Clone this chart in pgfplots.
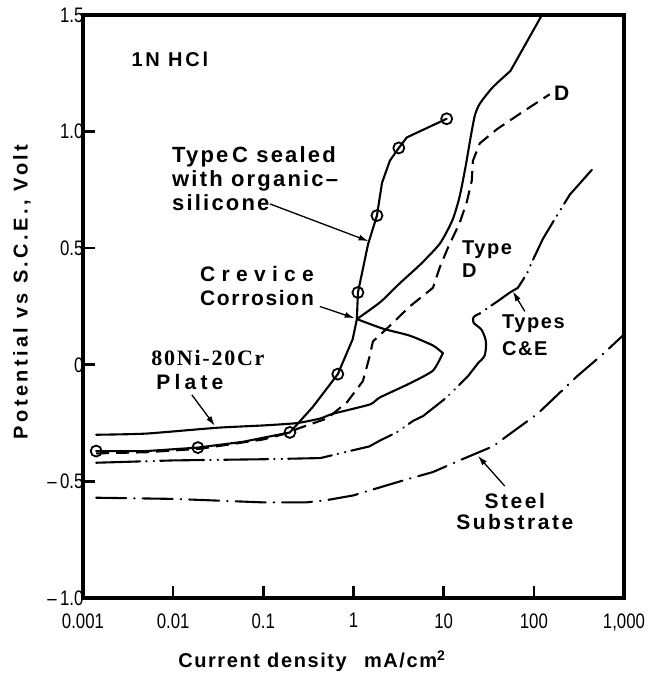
\documentclass[border=0pt]{standalone}
\usepackage{fontspec}
\setmainfont{Liberation Sans}
\newfontfamily\labfont[LetterSpace=8]{Liberation Sans}
\newfontfamily\tickfont[FakeStretch=0.8]{Liberation Sans}
\newfontfamily\serifbold[LetterSpace=8]{Liberation Serif}
\usepackage{pgfplots}
\pgfplotsset{compat=1.18}
\usetikzlibrary{arrows.meta}
\tikzset{
  curve/.style={black, line width=2.1pt, line join=round, line cap=round},
  lab/.style={font=\labfont\bfseries\fontsize{21}{24}\selectfont, inner sep=0pt},
  arr/.style={-{Latex[length=10pt,width=6pt]}, line width=1.3pt},
  tk/.style={line width=2.6pt, black, line cap=butt},
}
\begin{document}
\begin{tikzpicture}
\begin{axis}[
  scale only axis, width=541pt, height=583pt,
  xmode=log, xmin=0.001, xmax=1000, ymin=-1, ymax=1.5,
  axis line style={line width=3.6pt, black},
  tick align=inside,
  xtick pos=left, ytick pos=left,
  major tick length=12pt,
  xtick style={line width=2.6pt, black},
  ytick style={line width=2.6pt, black},
  xminorticks=false,
  xtick={0.001,0.01,0.1,1,10,100,1000},
  xticklabels={0.001,0.01,0.1,1,10,100,{1,000}},
  ytick={-1,-0.5,0,0.5,1,1.5},
  yticklabels={{–\,1.0},{–\,0.5},0,0.5,1.0,1.5},
  ticklabel style={font=\tickfont\fontsize{21}{21}\selectfont},
  xticklabel style={yshift=-12pt},
  yticklabel style={xshift=4pt},
  clip=false,
  xlabel={Current density\hspace{10pt} mA/cm\textsuperscript{2}},
  ylabel={Potential vs S.C.E., Volt},
  every axis x label/.style={at={(axis description cs:0.423,-0.108)},anchor=center,font=\labfont\bfseries\fontsize{20}{20}\selectfont},
  every axis y label/.style={at={(axis description cs:-0.113,0.525)},anchor=center,rotate=90,font=\labfont\addfontfeatures{LetterSpace=17}\bfseries\fontsize{20}{20}\selectfont},
]
% frame and inward tick marks (left and bottom), drawn as short plot segments
\addplot[line width=3.4pt, black, line join=round, forget plot] coordinates {
(0.001,-1)(1000,-1)(1000,1.5)(0.001,1.5)(0.001,-1)};
\addplot[tk, forget plot] coordinates {(0.01,-1)(0.01,-0.9485)};
\addplot[tk, forget plot] coordinates {(0.1,-1)(0.1,-0.9485)};
\addplot[tk, forget plot] coordinates {(1,-1)(1,-0.9485)};
\addplot[tk, forget plot] coordinates {(10,-1)(10,-0.9485)};
\addplot[tk, forget plot] coordinates {(100,-1)(100,-0.9485)};
\addplot[tk, forget plot] coordinates {(0.001,-0.5)(0.001358,-0.5)};
\addplot[tk, forget plot] coordinates {(0.001,0)(0.001358,0)};
\addplot[tk, forget plot] coordinates {(0.001,0.5)(0.001358,0.5)};
\addplot[tk, forget plot] coordinates {(0.001,1)(0.001358,1)};
% 80Ni-20Cr plate (solid), with crevice loop and rise to top
\addplot[curve, smooth, tension=0.35] coordinates {
(0.0014,-0.30)(0.005,-0.295)(0.0306,-0.27)(0.1,-0.26)(0.236,-0.25)(0.43,-0.23)(0.59,-0.21)
(1.52,-0.17)(1.96,-0.14)(4.2,-0.08)(7.6,-0.025)(9.8,0.05)};
\addplot[curve, smooth, tension=0.35] coordinates {
(9.8,0.05)(7.6,0.083)(4.2,0.125)(2.12,0.155)(1.09,0.196)};
\addplot[curve, smooth, tension=0.4] coordinates {
(1.09,0.196)(2.0,0.27)(3.27,0.35)(5.5,0.43)(9.08,0.52)(12.5,0.62)(15,0.72)(17.5,0.85)(20,0.98)(22.2,1.07)(25.2,1.12)
(35,1.19)(55,1.26)};
\addplot[curve] coordinates {(55,1.26)(123,1.5)};
% Type C sealed with organic silicone (solid with circles)
\addplot[curve] coordinates {
(0.0014,-0.37)(0.005,-0.37)(0.0188,-0.355)(0.06,-0.33)(0.197,-0.29)(0.355,-0.18)(0.67,-0.04)
(0.98,0.11)(1.09,0.196)(1.12,0.31)(1.45,0.517)(1.82,0.64)(2.07,0.78)(2.53,0.875)(3.18,0.93)
(3.9,0.975)(10.8,1.055)};
% Type D (dashed)
\addplot[curve, dash pattern=on 13pt off 7pt, line cap=butt] coordinates {
(0.0014,-0.38)(0.005,-0.375)(0.02,-0.36)(0.1,-0.32)(0.2,-0.29)(0.236,-0.275)(0.51,-0.23)
(0.85,-0.16)(1.27,-0.07)(1.52,0.04)(1.64,0.10)(2.34,0.155)(4.2,0.25)(7.6,0.33)(9.1,0.42)
(11.1,0.50)(15.1,0.61)(18.1,0.70)(20.5,0.79)(21.1,0.875)(25.2,0.95)(38.9,1.01)(75.5,1.085)(150,1.16)};
% Types C & E (dash-dot-dot) lower part
\addplot[curve, dash pattern=on 44pt off 6pt on 0.5pt off 7pt on 0.5pt off 6pt] coordinates {
(0.0014,-0.42)(0.01,-0.41)(0.1,-0.405)(0.43,-0.40)(0.70,-0.38)(1.5,-0.35)(1.96,-0.325)
(3.0,-0.29)(4.6,-0.24)(5.9,-0.22)(10.8,-0.14)(18.5,-0.05)(24.4,0.01)};
% Types C & E squiggle (solid)
\addplot[curve, smooth, tension=0.5] coordinates {
(24.4,0.01)(28.5,0.04)(29.4,0.10)(26.3,0.15)(21.5,0.18)(21.5,0.205)(25.2,0.22)};
% Types C & E upper part
\addplot[curve, dash pattern=on 0.5pt off 7pt on 0.5pt off 6pt on 44pt off 6pt] coordinates {
(25.2,0.22)(32.5,0.25)(38.9,0.27)(54.2,0.31)(66.5,0.33)(83.6,0.39)(95,0.44)(126,0.54)
(180,0.64)(251,0.73)(474,0.85)};
% Steel substrate (dash-dot)
\addplot[curve, dash pattern=on 30pt off 8pt on 0.5pt off 8pt] coordinates {
(0.0014,-0.57)(0.01,-0.575)(0.1,-0.59)(0.3,-0.59)(0.51,-0.58)(1,-0.56)(1.8,-0.53)(4,-0.49)
(7.6,-0.46)(15,-0.41)(35,-0.35)(110,-0.21)(300,-0.05)(600,0.05)(1000,0.13)};
% circle markers on Type C sealed curve
\addplot[only marks, mark=o, mark size=5.5pt, mark options={fill=white, line width=1.8pt, black}] coordinates {
(0.0014,-0.37)(0.0188,-0.355)(0.197,-0.29)(0.67,-0.04)(1.12,0.31)(1.82,0.64)(3.18,0.93)(10.8,1.055)};

% annotations
\node[lab, font=\labfont\addfontfeatures{LetterSpace=14}\bfseries\fontsize{20}{24}\selectfont] at (axis cs:0.0092,1.31) {1N HCl};
\node[lab, align=left, anchor=west, font=\labfont\addfontfeatures{LetterSpace=10}\bfseries\fontsize{22}{24}\selectfont] at (axis cs:0.0097,0.80) {Type\,C sealed\\with organic–\\silicone};
\draw[arr] (axis cs:0.118,0.69) -- (axis cs:1.47,0.53);
\node[lab, align=center] at (axis cs:0.085,0.3375) {{\addfontfeatures{LetterSpace=30}Crevice}\\Corrosion};
\draw[arr] (axis cs:0.424,0.25) -- (axis cs:1.03,0.2);
\node[font=\serifbold\bfseries\fontsize{22}{22}\selectfont, inner sep=0pt] at (axis cs:0.0243,0.029) {80Ni-20Cr};
\node[lab, font=\labfont\addfontfeatures{LetterSpace=20}\bfseries\fontsize{21}{24}\selectfont] at (axis cs:0.01534,-0.075) {Plate};
\draw[arr] (axis cs:0.01614,-0.129) -- (axis cs:0.02906,-0.262);
\node[lab, align=left, anchor=west, font=\labfont\bfseries\fontsize{20}{23}\selectfont] at (axis cs:15.9,0.454) {Type\\D};
\node[lab] at (axis cs:204,1.163) {D};
\node[lab, align=left, anchor=west, font=\labfont\bfseries\fontsize{20}{27}\selectfont] at (axis cs:44.2,0.125) {Types\\C\&E};
\draw[arr] (axis cs:79.4,0.229) -- (axis cs:58.5,0.315);
\node[lab, align=center, font=\labfont\addfontfeatures{LetterSpace=12}\bfseries\fontsize{21}{21}\selectfont] at (axis cs:61.5,-0.627) {Steel\\Substrate};
\draw[arr] (axis cs:47.6,-0.52) -- (axis cs:23.9,-0.39);
\end{axis}
\pgfresetboundingbox
\path[use as bounding box] (-83pt,-79pt) rectangle (569pt,598pt);
\end{tikzpicture}
\end{document}
